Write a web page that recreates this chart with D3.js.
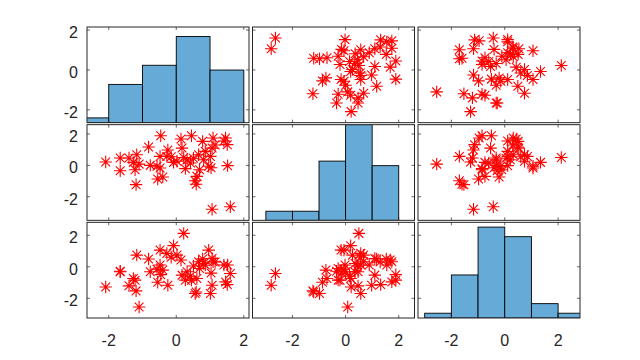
<!DOCTYPE html>
<html><head><meta charset="utf-8">
<script src="https://cdn.jsdelivr.net/npm/d3@7"></script>
<style>body{margin:0;background:#fff}svg{display:block}</style>
</head><body><svg id="c" width="640" height="360"></svg>
<script>
// Three variables, 50 observations each (plotmatrix style)
const var1 = [-2.09,-1.66,-1.66,-1.40,-1.27,-1.22,-1.19,-1.17,-1.10,-0.82,
              -0.77,-0.57,-0.55,-0.48,-0.48,-0.46,-0.40,-0.28,-0.25,-0.08,
               0.02, 0.14, 0.17, 0.22, 0.27, 0.32, 0.42, 0.45, 0.51, 0.56,
               0.59, 0.61, 0.66, 0.69, 0.78, 0.81, 0.86, 0.96, 1.01, 1.06,
               1.06, 1.09, 1.41, 1.46, 1.51, 1.52, 1.60,-0.15, 1.15, 1.03];
const var2 = [ 0.21, 0.47,-0.34, 0.47, 0.19,-0.28,-1.23, 0.68, 0.08, 1.17,
               0.00,-0.06,-0.87, 0.57,-0.17, 1.89,-0.74, 0.57, 0.98, 0.19,
               0.26, 1.68, 1.10, 0.50,-0.21, 0.35, 0.15, 1.89, 0.45,-0.98,
              -1.20,-0.70, 0.68,-0.28, 1.53, 0.36, 0.89,-0.06, 0.57, 1.10,
              -2.80, 1.74, 1.55, 1.74, 1.32,-0.02,-2.64, 0.55, 1.30,-0.15];
const var3 = [-1.28,-0.32,-0.28,-1.21,-0.74,-0.85,-1.53, 0.74,-2.55, 0.49,
              -0.32,-0.15,-0.98, 0.11, 1.06,-0.50,-0.21, 0.85,-1.17, 1.34,
               0.74, 0.43,-0.53, 2.12,-0.85,-0.32,-0.60,-0.85, 0.05,-1.70,
              -1.60,-0.74, 0.32,-0.11, 0.50, 0.21, 0.11, 1.06,-1.70, 0.53,
              -1.17, 0.32, 0.11,-0.96,-1.13, 0.11,-0.43, 0.60, 0.30,-0.40];
const variables = [var1, var2, var3];
const tickValues = [-2, 0, 2];
const tickLabels = ["-2", "0", "2"];
const binThresholds = [-3, -2, -1, 0, 1, 2, 3];
const histYMax = [20, 21, 20];

(function () {
const svg = d3.select("#c");
const n = variables.length;
const mLeft = 87, mRight = 580, mTop = 27, mBottom = 318, gapX = 3.5, gapY = 2;
const pw = (mRight - mLeft - gapX * (n - 1)) / n;
const ph = (mBottom - mTop - gapY * (n - 1)) / n;
const colX = d3.range(n).map(j => mLeft + j * (pw + gapX));
const rowY = d3.range(n).map(i => mTop + i * (ph + gapY));

// limits: data extent padded by 15% of range
const lims = variables.map(v => {
  const [a, b] = d3.extent(v); const d = b - a;
  return [a - 0.15 * d, b + 0.15 * d];
});
const xScales = variables.map((v, j) => d3.scaleLinear().domain(lims[j]).range([colX[j], colX[j] + pw]));
const yScales = variables.map((v, i) => d3.scaleLinear().domain(lims[i]).range([rowY[i] + ph, rowY[i]]));

const defs = svg.append("defs");
const axisColor = "#262626";
const R = 6.2, D = R * Math.SQRT1_2;
const starPath = `M${-R},0L${R},0M0,${-R}L0,${R}M${-D},${-D}L${D},${D}M${-D},${D}L${D},${-D}`;

for (let i = 0; i < n; i++) {
  for (let j = 0; j < n; j++) {
    const id = `clip${i}${j}`;
    defs.append("clipPath").attr("id", id).append("rect")
      .attr("x", colX[j]).attr("y", rowY[i]).attr("width", pw).attr("height", ph);
    const g = svg.append("g");
    const x = xScales[j], y = yScales[i];
    const content = g.append("g").attr("clip-path", `url(#${id})`);
    if (i === j) {
      const bins = d3.bin().domain([-4, 4]).thresholds(binThresholds)(variables[i]).filter(b => b.length > 0);
      const hy = d3.scaleLinear().domain([0, histYMax[i]]).range([rowY[i] + ph, rowY[i]]);
      content.selectAll("rect").data(bins).join("rect")
        .attr("x", b => x(b.x0)).attr("width", b => x(b.x1) - x(b.x0))
        .attr("y", b => hy(b.length)).attr("height", b => hy(0) - hy(b.length))
        .attr("fill", "rgb(102,170,215)").attr("stroke", "#000").attr("stroke-width", 0.9);
    } else {
      const pts = d3.range(variables[0].length).map(k => [variables[j][k], variables[i][k]]);
      content.selectAll("path").data(pts).join("path")
        .attr("transform", p => `translate(${x(p[0])},${y(p[1])})`)
        .attr("d", starPath).attr("fill", "none").attr("stroke", "#ff0000").attr("stroke-width", 1.1);
    }
    const tl = 3;
    const tk = g.append("g").attr("stroke", axisColor).attr("stroke-width", 0.7);
    tickValues.forEach(t => {
      const tx = x(t), ty = y(t);
      if (tx >= colX[j] && tx <= colX[j] + pw) {
        tk.append("line").attr("x1", tx).attr("x2", tx).attr("y1", rowY[i] + ph).attr("y2", rowY[i] + ph - tl);
        tk.append("line").attr("x1", tx).attr("x2", tx).attr("y1", rowY[i]).attr("y2", rowY[i] + tl);
      }
      if (ty >= rowY[i] && ty <= rowY[i] + ph) {
        tk.append("line").attr("y1", ty).attr("y2", ty).attr("x1", colX[j]).attr("x2", colX[j] + tl);
        tk.append("line").attr("y1", ty).attr("y2", ty).attr("x1", colX[j] + pw).attr("x2", colX[j] + pw - tl);
      }
    });
    g.append("rect").attr("x", colX[j]).attr("y", rowY[i]).attr("width", pw).attr("height", ph)
      .attr("fill", "none").attr("stroke", axisColor).attr("stroke-width", 1);
  }
}

const font = "'Liberation Sans', Arial, Helvetica, sans-serif";
for (let i = 0; i < n; i++) {
  svg.append("g").selectAll("text").data(tickValues).join("text")
    .attr("x", mLeft - 9).attr("y", t => yScales[i](t) + 2.5)
    .attr("text-anchor", "end").attr("dominant-baseline", "central")
    .attr("font-family", font).attr("font-size", 16).attr("fill", axisColor)
    .text((t, k) => tickLabels[k]);
}
for (let j = 0; j < n; j++) {
  svg.append("g").selectAll("text").data(tickValues).join("text")
    .attr("x", t => xScales[j](t)).attr("y", mBottom + 28)
    .attr("text-anchor", "middle")
    .attr("font-family", font).attr("font-size", 16).attr("fill", axisColor)
    .text((t, k) => tickLabels[k]);
}
})();
</script></body></html>
